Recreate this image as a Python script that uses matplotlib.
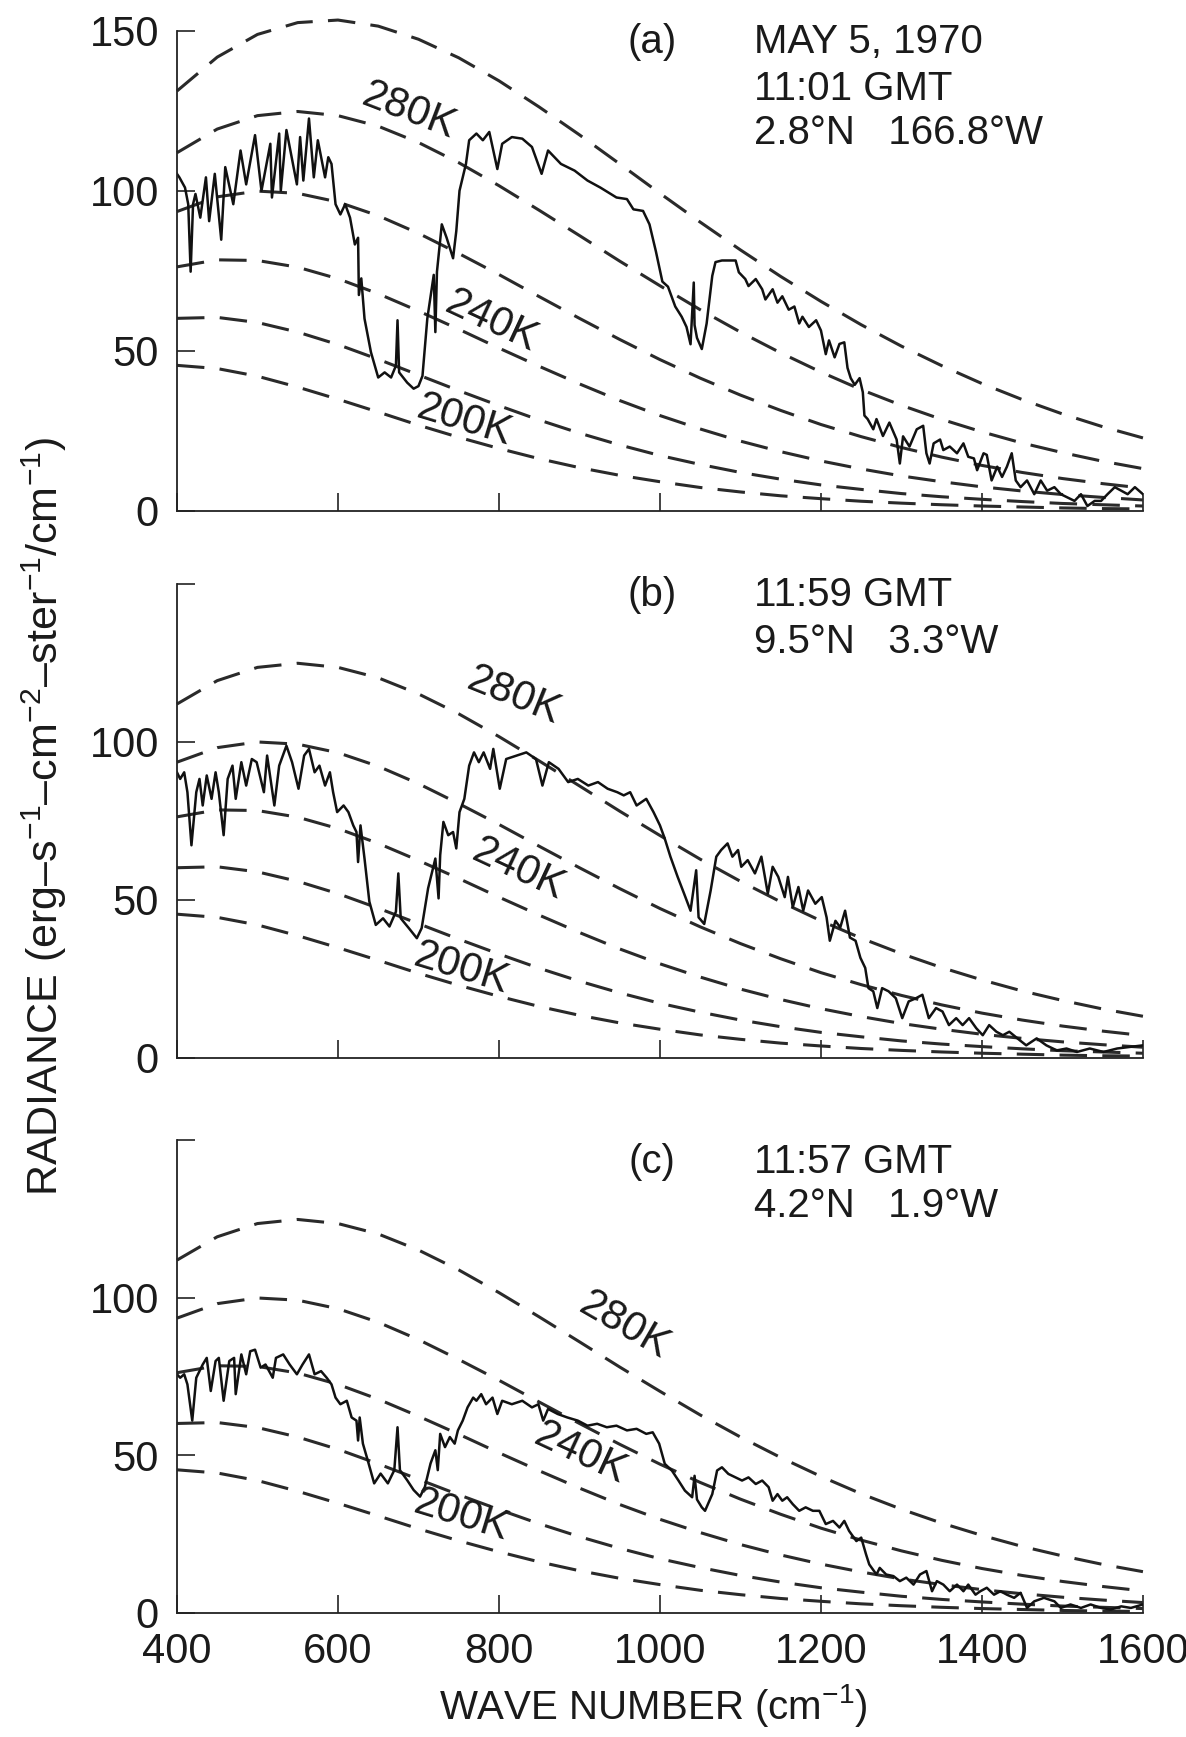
import numpy as np
import matplotlib
matplotlib.use("Agg")
import matplotlib.pyplot as plt

plt.rcParams['font.family'] = ['Liberation Sans', 'DejaVu Sans']
plt.rcParams['mathtext.fontset'] = 'custom'
plt.rcParams['mathtext.rm'] = 'Liberation Sans'
plt.rcParams['mathtext.it'] = 'Liberation Sans:italic'

# blackbody reference curves, read every 50 cm-1
nu_bb = [400, 450, 500, 550, 600, 650, 700, 750, 800, 850, 900, 950, 1000,
         1050, 1100, 1150, 1200, 1250, 1300, 1350, 1400, 1450, 1500, 1550, 1600]
bb300 = [131.2, 141.8, 148.9, 152.6, 153.4, 151.5, 147.4, 141.6, 134.4, 126.2, 117.5, 108.4, 99.2,
         90.2, 81.5, 73.2, 65.4, 58.1, 51.4, 45.3, 39.7, 34.7, 30.2, 26.2, 22.7]
bb280 = [111.9, 119.3, 123.5, 124.8, 123.5, 120.2, 115.1, 108.8, 101.6, 93.9, 86.0, 78.0, 70.3,
         62.8, 55.8, 49.3, 43.3, 37.8, 32.9, 28.5, 24.6, 21.1, 18.1, 15.4, 13.1]
bb260 = [93.5, 98.1, 99.9, 99.2, 96.5, 92.2, 86.7, 80.4, 73.8, 66.9, 60.1, 53.5, 47.2,
         41.4, 36.1, 31.3, 26.9, 23.1, 19.7, 16.7, 14.1, 11.9, 10.0, 8.4, 7.0]
bb240 = [76.2, 78.4, 78.2, 76.1, 72.5, 67.8, 62.4, 56.7, 50.8, 45.1, 39.6, 34.4, 29.7,
         25.5, 21.7, 18.4, 15.5, 13.0, 10.8, 9.0, 7.4, 6.1, 5.0, 4.1, 3.3]
bb220 = [60.1, 60.4, 58.8, 55.8, 51.9, 47.3, 42.4, 37.5, 32.8, 28.3, 24.2, 20.5, 17.2,
         14.4, 11.9, 9.8, 8.0, 6.6, 5.3, 4.3, 3.5, 2.8, 2.2, 1.8, 1.4]
bb200 = [45.4, 44.4, 42.0, 38.6, 34.8, 30.8, 26.7, 22.9, 19.4, 16.2, 13.4, 11.0, 9.0,
         7.2, 5.8, 4.6, 3.7, 2.9, 2.3, 1.8, 1.4, 1.1, 0.8, 0.6, 0.5]

# (a) spectrum
spec_a_x = [400, 403, 410, 414, 417, 420, 423, 429, 436, 440, 447, 455, 460, 470, 479, 486, 497, 505,
            516, 518, 527, 529, 536, 549, 553, 557, 564, 570, 575, 584, 588, 592, 597, 603, 609, 615,
            621, 625, 626, 629, 633, 641, 650, 658, 666, 672, 674, 676, 686, 694, 700, 705, 711, 719,
            721, 723, 729, 735, 743, 747, 751, 759, 763, 772, 780, 788, 798, 804, 816, 829, 841, 853,
            861, 877, 894, 910, 926, 946, 959, 967, 979, 987, 995, 1003, 1010, 1019, 1027, 1033, 1038,
            1042, 1043, 1046, 1052, 1058, 1065, 1069, 1077, 1094, 1098, 1106, 1110, 1119, 1127, 1131,
            1140, 1146, 1152, 1160, 1167, 1173, 1177, 1185, 1194, 1200, 1206, 1210, 1217, 1223, 1229,
            1233, 1237, 1242, 1248, 1252, 1254, 1258, 1265, 1269, 1277, 1285, 1294, 1298, 1302, 1310,
            1319, 1327, 1331, 1335, 1340, 1348, 1352, 1360, 1369, 1377, 1383, 1390, 1394, 1402, 1406,
            1412, 1419, 1425, 1431, 1437, 1442, 1448, 1456, 1465, 1473, 1481, 1490, 1498, 1506, 1515,
            1523, 1531, 1540, 1548, 1556, 1565, 1573, 1581, 1590, 1600]
spec_a_y = [105.3, 104.2, 101, 95.8, 74.7, 95.8, 99, 91.6, 104.2, 90.5, 105.3, 84.7, 107.4, 95.8, 112.6,
            102, 117.4, 100, 114.7, 97.9, 117.9, 100, 119, 102, 116.8, 103.2, 122.6, 104.2, 115.8, 104.2,
            110.5, 108.4, 95.8, 92.6, 95.8, 91.6, 83.2, 85.3, 67.4, 72.6, 60, 49.5, 41.6, 43.2, 41.6,
            45.3, 59.5, 43.2, 40, 38.1, 38.9, 42.1, 60, 73.7, 55.8, 74.7, 89.5, 85.3, 78.9, 87.4, 100,
            108.4, 115.8, 117.9, 115.8, 118.4, 106.8, 114.7, 116.8, 116.3, 113.7, 105.3, 112.6, 108.4,
            106.3, 103.2, 101, 97.9, 97.4, 94.2, 93.7, 89.5, 81, 71.6, 70, 63.8, 60.6, 57.4, 52,
            71.3, 58, 54, 50.5, 58.5, 73.4, 77.7, 78.2, 78.2, 74.5, 72.4, 70.2, 72.4, 69.2, 66,
            69.2, 65, 67, 62.8, 63.8, 58.5, 60.6, 57.4, 59.5, 56.3, 48.9, 53.2, 47.9, 52.1, 52.6,
            44.6, 41.4, 39.3, 41.4, 37, 29.7, 28.6, 25.4, 28.6, 23.3, 27.5, 22.2, 14.7, 23.2, 20,
            25.4, 26.5, 17.9, 14.7, 21, 22.2, 18.9, 20, 17.9, 21, 16.8, 16.3, 12.6, 17.9, 17.4,
            9.4, 13.7, 10.5, 13.7, 17.9, 9.4, 7.3, 9.4, 5.1, 9.4, 6.2, 7.3, 5.1, 4.1, 3,
            5.1, 1.4, 3, 3, 5.1, 7.3, 6.2, 5.1, 7.3, 5.1]

# (b) spectrum
spec_b_x = [400, 404, 409, 413, 418, 424, 428, 432, 437, 443, 448, 452, 458, 463, 469, 473, 480, 486,
            493, 499, 508, 512, 521, 527, 536, 543, 551, 558, 564, 571, 577, 584, 590, 594, 599, 607,
            613, 619, 623, 625, 628, 633, 639, 647, 656, 664, 672, 675, 678, 688, 698, 704, 712, 721,
            725, 727, 731, 737, 743, 747, 751, 757, 763, 769, 775, 781, 789, 793, 801, 809, 822, 834,
            846, 854, 862, 874, 886, 898, 911, 923, 935, 947, 955, 963, 971, 983, 992, 1000, 1006,
            1013, 1022, 1030, 1038, 1045, 1048, 1055, 1063, 1070, 1076, 1084, 1090, 1097, 1101, 1109,
            1118, 1126, 1134, 1140, 1147, 1155, 1159, 1165, 1172, 1178, 1184, 1193, 1201, 1207, 1211,
            1218, 1224, 1230, 1236, 1243, 1249, 1255, 1259, 1265, 1270, 1276, 1284, 1293, 1301, 1309,
            1318, 1326, 1334, 1343, 1351, 1359, 1368, 1376, 1384, 1393, 1401, 1409, 1418, 1426, 1434,
            1447, 1455, 1468, 1480, 1493, 1505, 1518, 1534, 1551, 1568, 1584, 1600]
spec_b_y = [90.3, 88.2, 90.3, 84, 67.2, 84, 88.2, 79.8, 89.3, 81.9, 90.3, 84, 70.4, 88.2, 92.4, 81.9,
            93.5, 86.1, 94.5, 93.5, 84, 95.6, 79.8, 92.4, 98.7, 93.5, 85.1, 95.6, 97.7, 90.3, 92.4, 86.1,
            90.3, 84, 77.7, 79.8, 77.7, 73.5, 71.4, 61.9, 73.5, 63, 49.4, 42, 44.1, 41.5, 46.2, 58.3,
            44.1, 41, 37.8, 41, 53.6, 63, 50.4, 64.1, 74.6, 70.4, 71.4, 66.2, 77.7, 81.9, 92.4, 96.6,
            93.5, 96.6, 91.4, 97.7, 85.1, 94.5, 95.6, 96.6, 94.5, 86.1, 93.5, 91.4, 87.2, 88.2, 86.1,
            87.2, 85.1, 84, 83, 84, 79.8, 81.9, 77.7, 73.5, 69.3, 63.6, 57.2, 51.9, 46.5, 59.3, 44.4,
            42.3, 52.9, 63.6, 65.7, 67.8, 63.6, 65.7, 60.4, 62.5, 58.3, 63.6, 51.9, 60.4, 57.2, 50.8,
            57.2, 47.6, 54, 46.5, 52.9, 48.7, 50.8, 44.4, 37, 43.3, 41.2, 46.5, 38, 37, 31.6, 28.4,
            22, 21, 15.7, 22, 21, 18.8, 12.5, 17.8, 18.8, 19.9, 12.5, 15.7, 14.6, 10.3, 12.5, 10.3,
            12.5, 9.3, 7.1, 10.3, 8.2, 7.1, 8.2, 5.5, 3.9, 6.1, 3.9, 2.3, 2.9, 1.8, 2.9, 1.8, 2.9,
            3.4, 3.9]

# (c) spectrum
spec_c_x = [400, 404, 409, 413, 419, 424, 432, 437, 442, 448, 452, 458, 465, 471, 473, 480, 486, 491,
            497, 504, 510, 519, 523, 532, 540, 549, 556, 564, 571, 579, 586, 592, 597, 603, 611, 617,
            623, 625, 627, 631, 637, 645, 653, 662, 670, 674, 677, 686, 694, 702, 708, 715, 721, 724,
            727, 733, 739, 745, 749, 755, 761, 768, 772, 778, 784, 792, 798, 804, 816, 829, 841, 849,
            855, 861, 873, 885, 898, 910, 922, 934, 946, 959, 971, 983, 991, 999, 1006, 1015, 1023,
            1031, 1040, 1043, 1046, 1052, 1056, 1065, 1071, 1077, 1085, 1094, 1102, 1110, 1119, 1127,
            1135, 1140, 1146, 1152, 1158, 1165, 1173, 1181, 1190, 1198, 1206, 1215, 1223, 1229, 1235,
            1244, 1250, 1256, 1260, 1269, 1273, 1281, 1290, 1298, 1306, 1315, 1323, 1331, 1338, 1344,
            1352, 1360, 1369, 1377, 1383, 1392, 1398, 1406, 1415, 1423, 1431, 1440, 1448, 1456, 1465,
            1477, 1490, 1498, 1510, 1523, 1535, 1548, 1560, 1573, 1585, 1600]
spec_c_y = [75.7, 74.6, 75.7, 72.5, 61, 74.6, 78.8, 80.9, 70.4, 79.9, 80.9, 67.3, 79.9, 80.9, 69.4, 82,
            75.7, 83, 83.5, 77.8, 78.8, 74.6, 80.9, 82, 78.8, 75.7, 78.8, 82, 75.7, 76.7, 74.6, 72.5,
            68.3, 66.2, 67.3, 62, 61, 54.7, 62, 53.7, 48.4, 41.1, 44.2, 41.1, 45.3, 58.9, 45.3, 42.1,
            39, 36.9, 40, 47.4, 51.6, 45.3, 56.8, 52.6, 55.8, 53.7, 57.9, 61, 65.2, 68.3, 67.3, 69.4,
            66.2, 68.3, 63.1, 67.3, 66.2, 67.3, 65.2, 66.2, 61, 64.7, 63.1, 62, 61, 59.4, 60, 58.9,
            59.4, 57.9, 58.4, 56.8, 57.3, 53.7, 47.3, 45.1, 42, 38.8, 36.7, 43.5, 36, 33.5, 32.4, 37.7,
            45.2, 46.2, 44.1, 43, 42, 43, 40.9, 42, 39.9, 35.6, 37.7, 35.6, 36.7, 34.5, 32.4, 33.5,
            32.4, 32.4, 28.2, 29.2, 27.1, 29.2, 26, 22.8, 23.9, 18.6, 15.4, 12.2, 14.3, 12.2, 11.7,
            10.1, 11.2, 9, 12.2, 13.3, 6.9, 10.1, 9, 6.9, 9, 6.9, 9, 5.8, 6.9, 8, 5.8, 6.9, 5.8,
            4.8, 6.4, 1.6, 3.7, 4.8, 3.7, 1.6, 2.7, 1.6, 2.7, 1.6, 1.1, 2.1, 1.6, 2.7]

fig = plt.figure(figsize=(11.86, 17.37), dpi=100)

ax_pos = [[0.1492, 0.7061, 0.8145, 0.2761],
          [0.1492, 0.3911, 0.8145, 0.2729],
          [0.1492, 0.0714, 0.8145, 0.2723]]

panels = [
    dict(curves=[bb300, bb280, bb260, bb240, bb220, bb200], sx=spec_a_x, sy=spec_a_y,
         tag='(a)', lines=['MAY 5, 1970', '11:01 GMT', '2.8°N   166.8°W'], ly=[146.5, 131.8, 118.0],
         klabels=[('280K', 688, 125, -21), ('240K', 791, 59, -25), ('200K', 757, 28, -17)],
         ylabels=['0', '50', '100', '150']),
    dict(curves=[bb280, bb260, bb240, bb220, bb200], sx=spec_b_x, sy=spec_b_y,
         tag='(b)', lines=['11:59 GMT', '9.5°N   3.3°W'], ly=[146.5, 131.6],
         klabels=[('280K', 819, 114.5, -22), ('240K', 825, 59.5, -25), ('200K', 754, 28, -17)],
         ylabels=['0', '50', '100', '']),
    dict(curves=[bb280, bb260, bb240, bb220, bb200], sx=spec_c_x, sy=spec_c_y,
         tag='(c)', lines=['11:57 GMT', '4.2°N   1.9°W'], ly=[143.1, 129.0],
         klabels=[('280K', 956, 91, -30), ('240K', 901, 50.5, -25), ('200K', 754, 31, -17)],
         ylabels=['0', '50', '100', '']),
]

for i, p in enumerate(panels):
    ax = fig.add_axes(ax_pos[i])
    for c in p['curves']:
        ax.plot(nu_bb, c, color='#2a2a2a', lw=2.2, linestyle=(0, (9, 5)), clip_on=False)
    ax.plot(p['sx'], p['sy'], color='#111111', lw=1.8)

    ax.set_xlim(400, 1600)
    ax.set_ylim(0, 150)
    ax.spines['top'].set_visible(False)
    ax.spines['right'].set_visible(False)
    for s in ['left', 'bottom']:
        ax.spines[s].set_linewidth(1.3)
        ax.spines[s].set_color('#222222')
    ax.set_xticks([400, 600, 800, 1000, 1200, 1400, 1600])
    ax.set_yticks([0, 50, 100, 150])
    ax.set_yticklabels(p['ylabels'])
    ax.tick_params(direction='in', length=13, width=1.2, color='#222222',
                   labelsize=30, labelcolor='#1a1a1a')
    ax.tick_params(axis='y', pad=13)
    ax.tick_params(axis='x', pad=14)
    if i < 2:
        ax.tick_params(axis='x', labelbottom=False)

    ax.text(990, p['ly'][0], p['tag'], fontsize=29, ha='center', va='center', color='#1a1a1a')
    for t, y in zip(p['lines'], p['ly']):
        ax.text(1117, y, t, fontsize=29, ha='left', va='center', color='#1a1a1a')
    for t, x, y, rot in p['klabels']:
        ax.text(x, y, t, fontsize=30, ha='center', va='center', rotation=rot,
                rotation_mode='anchor', color='#1a1a1a')

fig.text(0.037, 0.530,
         'RADIANCE (erg–s$^{-1}$–cm$^{-2}$–ster$^{-1}$/cm$^{-1}$)',
         rotation=90, ha='center', va='center', fontsize=31, color='#1a1a1a')
fig.text(0.551, 0.0184, 'WAVE NUMBER (cm$^{-1}$)', ha='center', va='center',
         fontsize=29, color='#1a1a1a')

fig.savefig('out.png', dpi=100)
